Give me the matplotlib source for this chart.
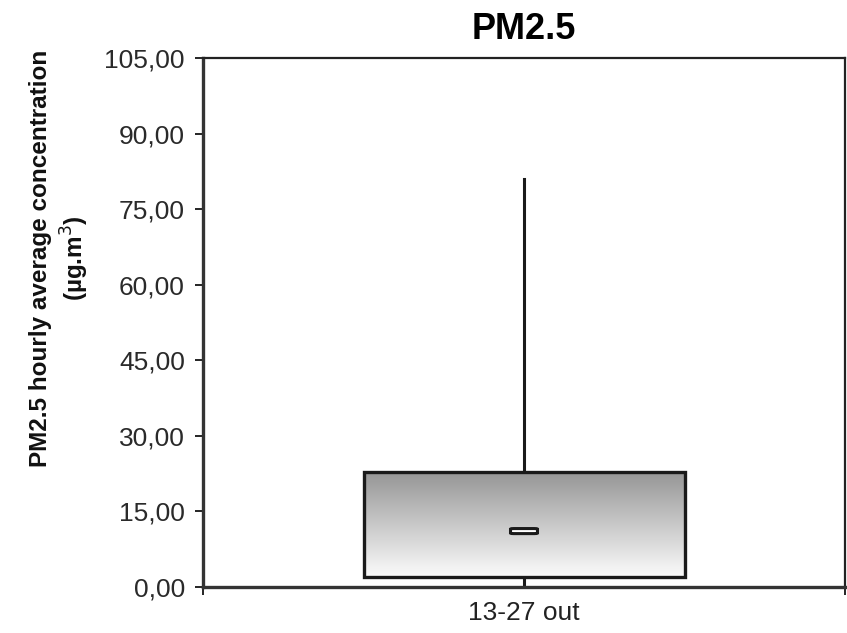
import matplotlib
matplotlib.use("Agg")
import matplotlib.pyplot as plt
import numpy as np
from matplotlib.patches import FancyBboxPatch

plt.rcParams['font.family'] = ['Liberation Sans', 'DejaVu Sans']

# Data
category = "13-27 out"
whisker_low = 0.0
q1 = 2.0
median = 11.1
q3 = 22.8
whisker_high = 81.0
yticks = [0, 15, 30, 45, 60, 75, 90, 105]

fig = plt.figure(figsize=(8.47, 6.33), dpi=100)
ax = fig.add_axes([203/847, 1 - 587/633, (845-203)/847, (587-58)/633])

stats = [dict(label=category, whislo=whisker_low, q1=q1, med=median, q3=q3, whishi=whisker_high)]
bp = ax.bxp(stats, positions=[1], widths=0.5, showfliers=False, showcaps=False,
            patch_artist=True,
            boxprops=dict(facecolor='none', edgecolor='#1a1a1a', linewidth=2.4),
            whiskerprops=dict(color='#1a1a1a', linewidth=2.2),
            medianprops=dict(visible=False))
bp['boxes'][0].set_zorder(4)

# gradient fill
grad = np.linspace(0, 1, 256).reshape(-1, 1)
ax.imshow(grad, extent=[0.75, 1.25, q1, q3], origin='lower', aspect='auto',
          cmap=matplotlib.colors.LinearSegmentedColormap.from_list('g', ['#fbfbfb', '#969696']),
          zorder=2, interpolation='bilinear')

# median marker
mw, mh = 0.042, 1.0
ax.add_patch(FancyBboxPatch((1 - mw/2, median - mh/2), mw, mh,
                            boxstyle="round,pad=0,rounding_size=0.005",
                            facecolor='white', edgecolor='#1a1a1a', linewidth=2.2, zorder=5,
                            mutation_aspect=20))

ax.set_xlim(0.5, 1.5)
ax.set_ylim(0, 105)
ax.set_yticks(yticks)
ax.set_yticklabels([f"{v:.2f}".replace('.', ',') for v in yticks], fontsize=19, color='#2a2a2a')
ax.set_xticks([0.5, 1.5])
ax.set_xticklabels(['', ''])
ax.set_xticks([1], minor=True)
ax.set_xticklabels([category], minor=True, fontsize=19, color='#222222')
ax.tick_params(axis='x', which='minor', length=0, pad=10)
ax.tick_params(axis='x', which='major', direction='out', length=6, width=1.2)
ax.tick_params(axis='y', direction='out', length=6, width=1.2, pad=7)

for side in ['left', 'bottom']:
    ax.spines[side].set_linewidth(2.4)
    ax.spines[side].set_color('#333333')
for side in ['top', 'right']:
    ax.spines[side].set_linewidth(1.6)
    ax.spines[side].set_color('#222222')

fig.text(60/847, 1 - 258/633, "PM2.5 hourly average concentration\n(µg.m$^{3}$)",
         rotation=90, ha='center', va='center', fontsize=17.5, fontweight='bold',
         linespacing=1.25, color='#111111', multialignment='center')
ax.set_title("PM2.5", fontsize=26, fontweight='bold', pad=14)

fig.savefig("out.png", dpi=100)
